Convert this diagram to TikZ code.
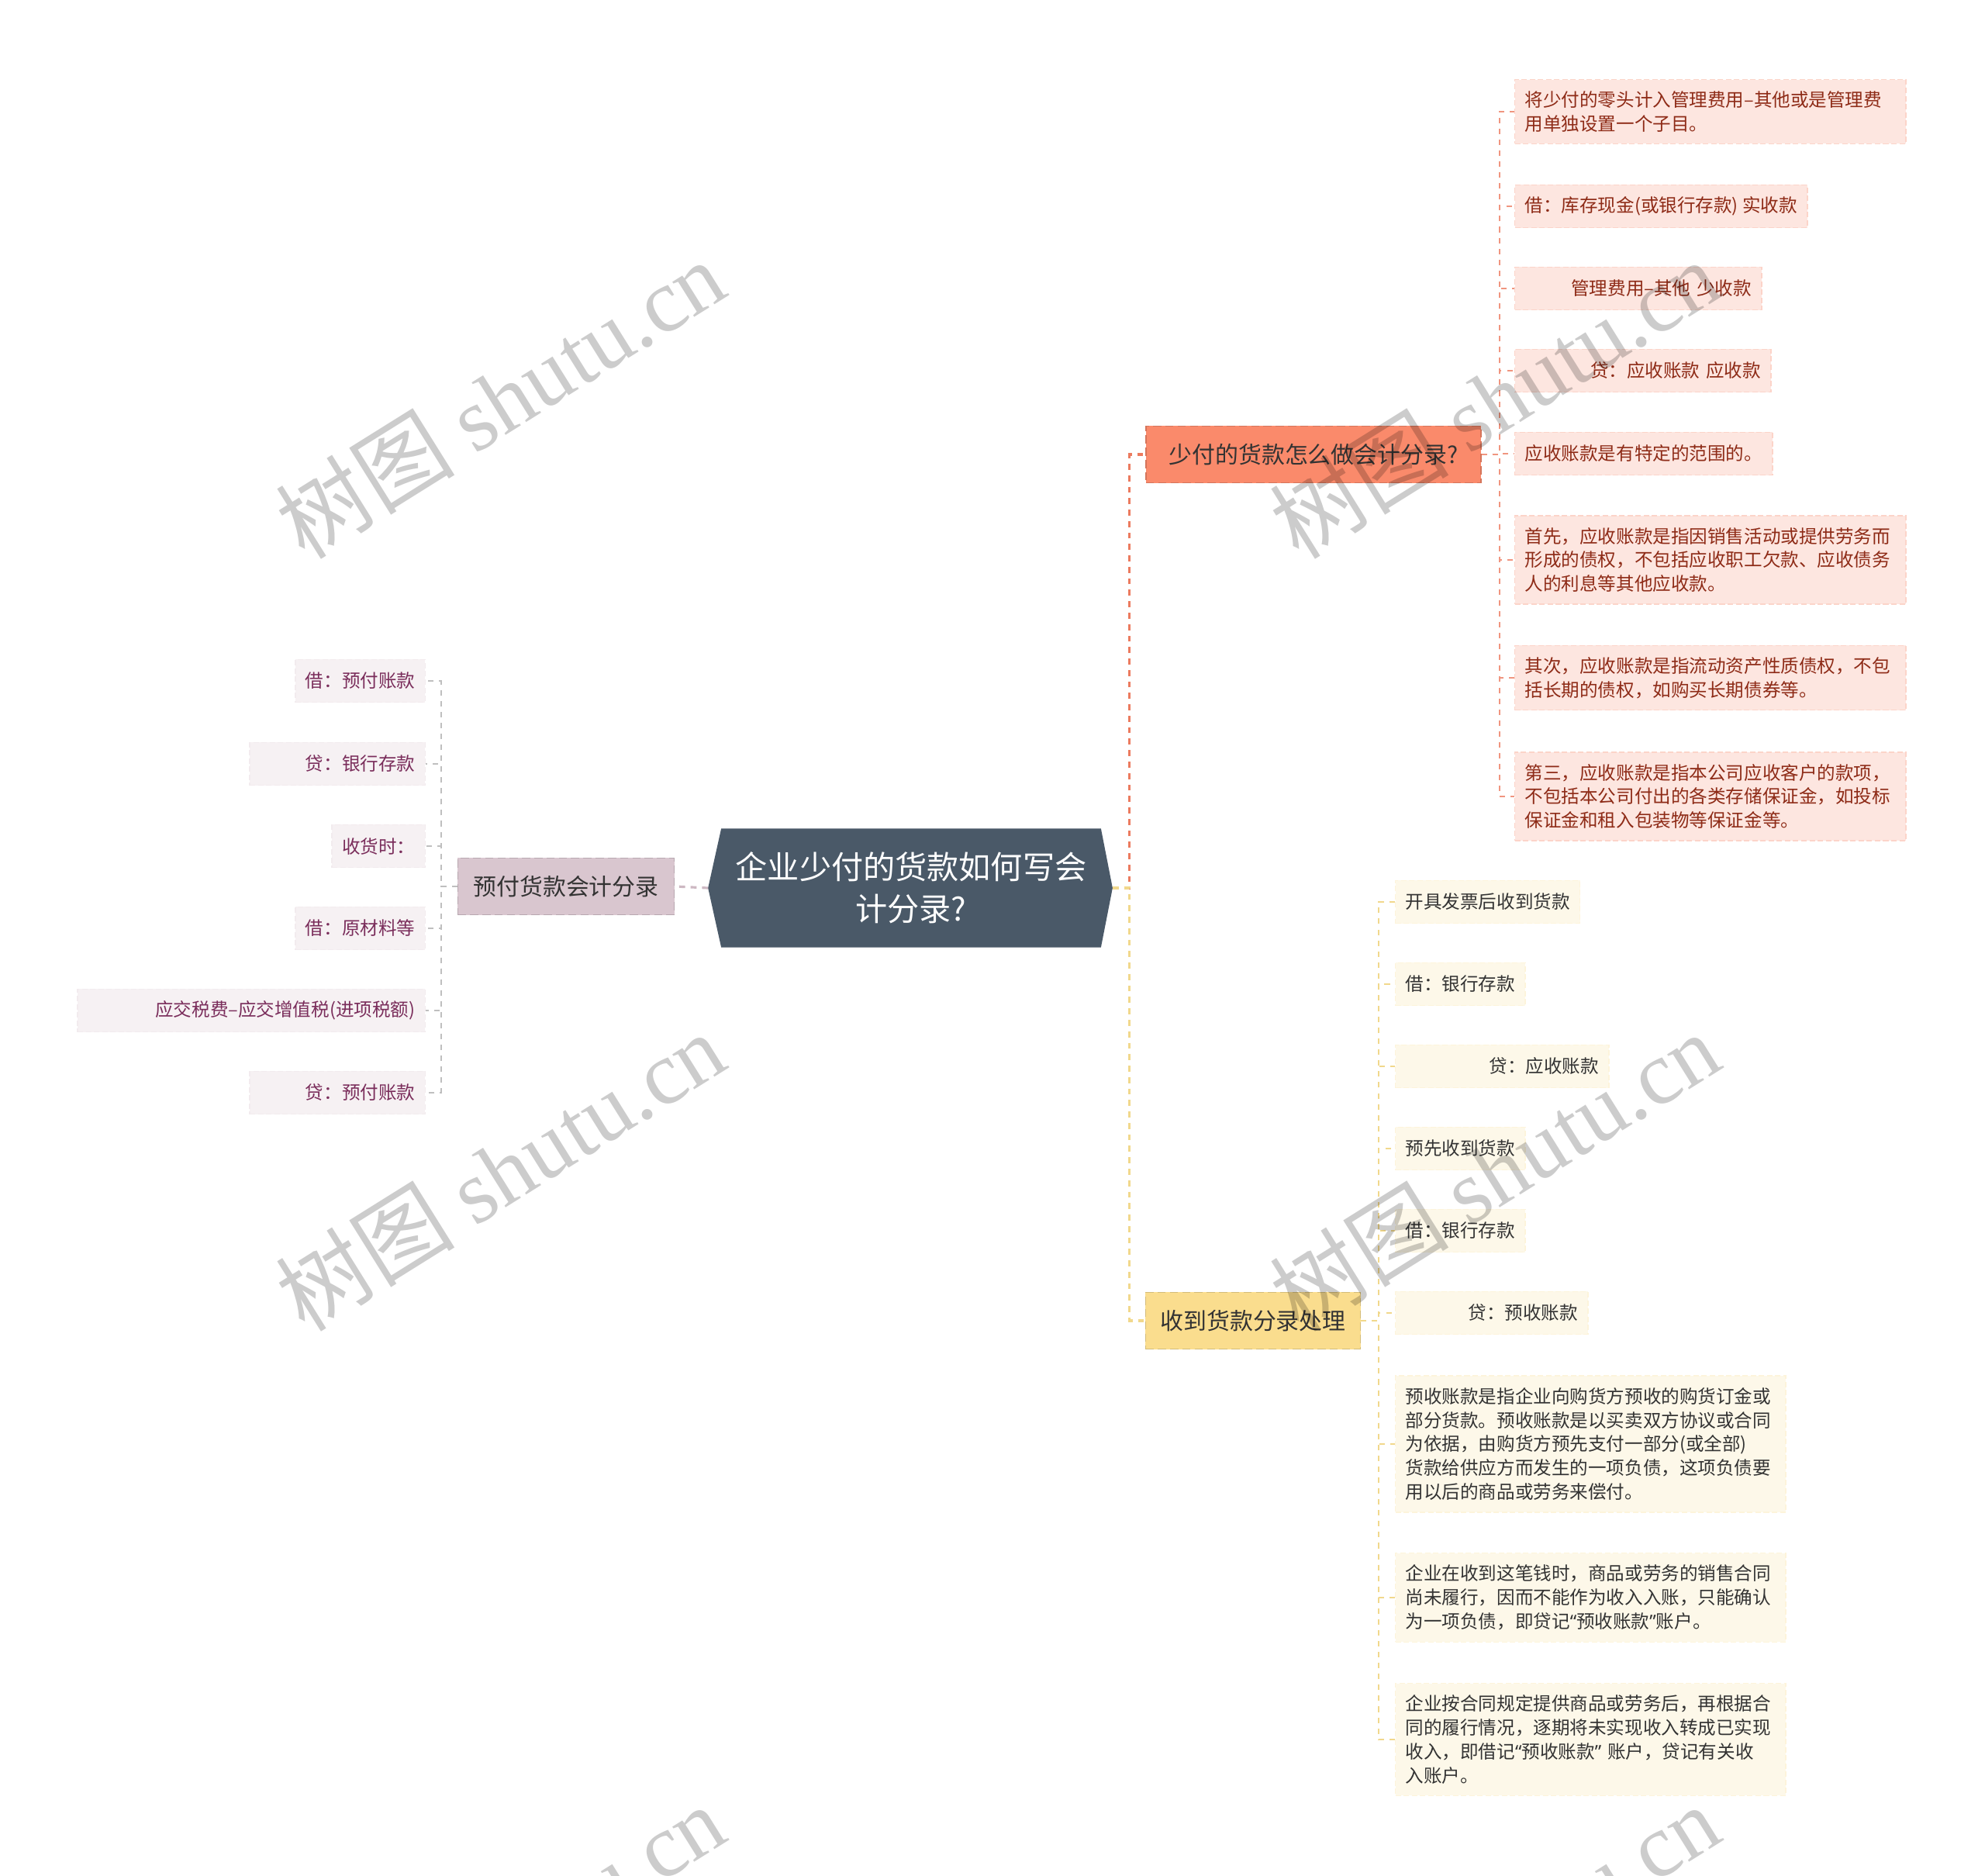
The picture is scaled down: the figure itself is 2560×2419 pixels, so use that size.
\documentclass[tikz,border=0pt]{standalone}
\usepackage{fontspec}
\setmainfont{Noto Sans CJK SC}
\newfontfamily\wmfont{Liberation Serif}
\newfontfamily\qtfont{Noto Sans}
\newcommand{\qopen}{{\qtfont “}}
\newcommand{\qclose}{{\qtfont ”}}
\usetikzlibrary{backgrounds}
\definecolor{mmRoot}{HTML}{4A5968}
\definecolor{mmCoral}{HTML}{FA8A6B}
\definecolor{mmCoralLeaf}{HTML}{FDE6E0}
\definecolor{mmCoralText}{HTML}{8E2B17}
\definecolor{mmCoralLine}{HTML}{EC7B5F}
\definecolor{mmSun}{HTML}{FADD8E}
\definecolor{mmSunLeaf}{HTML}{FDF8E9}
\definecolor{mmSunLine}{HTML}{F1D88C}
\definecolor{mmMauve}{HTML}{D9C6CF}
\definecolor{mmMauveLeaf}{HTML}{F6F1F3}
\definecolor{mmMauveText}{HTML}{7A2D5B}
\definecolor{mmMauveLine}{HTML}{CDB8C2}
\tikzset{
    leafbase/.style={
        rectangle,
        dash pattern=on 2pt off 1pt,
        inner xsep=0.13cm,
        inner ysep=0.15cm,
        minimum height=0.55cm,
        font=\fontsize{6.7pt}{8.8pt}\selectfont
    },
    % leaves of each branch
    cleaf/.style={leafbase, fill=mmCoralLeaf, draw=mmCoralLeaf!80!mmCoral, text=mmCoralText},
    sleaf/.style={leafbase, fill=mmSunLeaf, draw=mmSunLeaf!85!mmSun, text=black!80},
    mleaf/.style={leafbase, fill=mmMauveLeaf, draw=mmMauveLeaf!85!mmMauve, text=mmMauveText},
    wide/.style={text width=#1, align=right},
    para/.style={text width=#1, align=left}
}

\begin{document}
\begin{tikzpicture}[
    x=0.01cm, y=-0.01cm,
    root/.style={minimum width=4.88cm, minimum height=1.52cm, inner sep=0pt, align=center, text=white, font=\fontsize{11.7pt}{15.4pt}\selectfont},
    topic/.style={fill=#1, draw=#1!85!black, dash pattern=on 3pt off 1.5pt, minimum height=0.73cm, inner sep=0pt, text=black!80, font=\fontsize{8.5pt}{10pt}\selectfont},
    trunk/.style={draw=#1, line width=0.9pt, dash pattern=on 2.2pt off 2pt},
    twig/.style={draw=#1, line width=0.6pt, dash pattern=on 2pt off 2pt},
    wm/.style={rotate=32, text=black, opacity=0.2, font=\fontsize{33pt}{33pt}\selectfont}
]
\begin{scope}[on background layer]
\fill[white] (0,0) rectangle (2560,2419);
\end{scope}

% centre
\node[root] (root) at (1175,1145) {企业少付的货款如何写会\\计分录?};
\coordinate (rootR) at ([xshift=0.15cm]root.east);
\coordinate (rootL) at ([xshift=-0.17cm]root.west);
\begin{scope}[on background layer]
\fill[mmRoot] (root.north west) -- (root.north east) -- (rootR) -- (root.south east) -- (root.south west) -- (rootL) -- cycle;
\end{scope}

% branches
\node[topic=mmCoral, minimum width=4.32cm] (b1) at (1694,586) {少付的货款怎么做会计分录?};
\node[topic=mmSun, minimum width=2.77cm] (b2) at (1616,1703) {收到货款分录处理};
\node[topic=mmMauve, minimum width=2.79cm] (b3) at (730,1143) {预付货款会计分录};

\draw[trunk=mmCoralLine] (rootR) -- ++(22,0) |- (b1.west);
\draw[trunk=mmSunLine] (rootR) -- ++(22,0) |- (b2.west);
\draw[trunk=mmMauveLine] (rootL) -- (b3.east);

% upper right
\node[cleaf, para=4.78cm, anchor=west] (t1) at (1953,144) {将少付的零头计入管理费用–其他或是管理费\\用单独设置一个子目。};
\node[cleaf, anchor=west] (t2) at (1953,266) {借：库存现金(或银行存款) 实收款};
\node[cleaf, wide=2.92cm, anchor=west] (t3) at (1953,372) {管理费用–其他 少收款};
\node[cleaf, wide=3.04cm, anchor=west] (t4) at (1953,478) {贷：应收账款 应收款};
\node[cleaf, anchor=west] (t5) at (1953,585) {应收账款是有特定的范围的。};
\node[cleaf, para=4.78cm, anchor=west] (t6) at (1953,722) {首先，应收账款是指因销售活动或提供劳务而\\形成的债权，不包括应收职工欠款、应收债务\\人的利息等其他应收款。};
\node[cleaf, para=4.78cm, anchor=west] (t7) at (1953,874) {其次，应收账款是指流动资产性质债权，不包\\括长期的债权，如购买长期债券等。};
\node[cleaf, para=4.78cm, anchor=west] (t8) at (1953,1027) {第三，应收账款是指本公司应收客户的款项，\\不包括本公司付出的各类存储保证金，如投标\\保证金和租入包装物等保证金等。};

\foreach \n in {t1,t2,t3,t4,t5,t6,t7,t8}
    \draw[twig=mmCoralLine!80] (b1.east) -- ++(23,0) |- (\n.west);

% lower right
\node[sleaf, anchor=west] (s1) at (1799,1163) {开具发票后收到货款};
\node[sleaf, anchor=west] (s2) at (1799,1269) {借：银行存款};
\node[sleaf, wide=2.49cm, anchor=west] (s3) at (1799,1375) {贷：应收账款};
\node[sleaf, anchor=west] (s4) at (1799,1481) {预先收到货款};
\node[sleaf, anchor=west] (s5) at (1799,1587) {借：银行存款};
\node[sleaf, wide=2.22cm, anchor=west] (s6) at (1799,1693) {贷：预收账款};
\node[sleaf, para=4.77cm, anchor=west] (s7) at (1799,1862) {预收账款是指企业向购货方预收的购货订金或\\部分货款。预收账款是以买卖双方协议或合同\\为依据，由购货方预先支付一部分(或全部)\\货款给供应方而发生的一项负债，这项负债要\\用以后的商品或劳务来偿付。};
\node[sleaf, para=4.77cm, anchor=west] (s8) at (1799,2060) {企业在收到这笔钱时，商品或劳务的销售合同\\尚未履行，因而不能作为收入入账，只能确认\\为一项负债，即贷记\qopen 预收账款\qclose 账户。};
\node[sleaf, para=4.77cm, anchor=west] (s9) at (1799,2243) {企业按合同规定提供商品或劳务后，再根据合\\同的履行情况，逐期将未实现收入转成已实现\\收入，即借记\qopen 预收账款\qclose~账户，贷记有关收\\入账户。};

\foreach \n in {s1,s2,s3,s4,s5,s6,s7,s8,s9}
    \draw[twig=mmSunLine] (b2.east) -- ++(23,0) |- (\n.west);

% left
\node[mleaf, anchor=east] (l1) at (549,878) {借：预付账款};
\node[mleaf, wide=2.00cm, anchor=east] (l2) at (549,985) {贷：银行存款};
\node[mleaf, anchor=east] (l3) at (549,1091) {收货时：};
\node[mleaf, anchor=east] (l4) at (549,1197) {借：原材料等};
\node[mleaf, wide=4.22cm, anchor=east] (l5) at (549,1303) {应交税费–应交增值税(进项税额)};
\node[mleaf, wide=2.00cm, anchor=east] (l6) at (549,1409) {贷：预付账款};

\foreach \n in {l1,l2,l3,l4,l5,l6}
    \draw[twig=black!25] (b3.west) -- ++(-21,0) |- (\n.east);

% watermark
\begin{scope}
\clip (0,0) rectangle (2560,2419);
\foreach \wx in {645,1927}
    \foreach \wy in {514,1510,2506}
        \node[wm] at (\wx,\wy) {树图 {\wmfont shutu.cn}};
\end{scope}
\end{tikzpicture}
\end{document}
